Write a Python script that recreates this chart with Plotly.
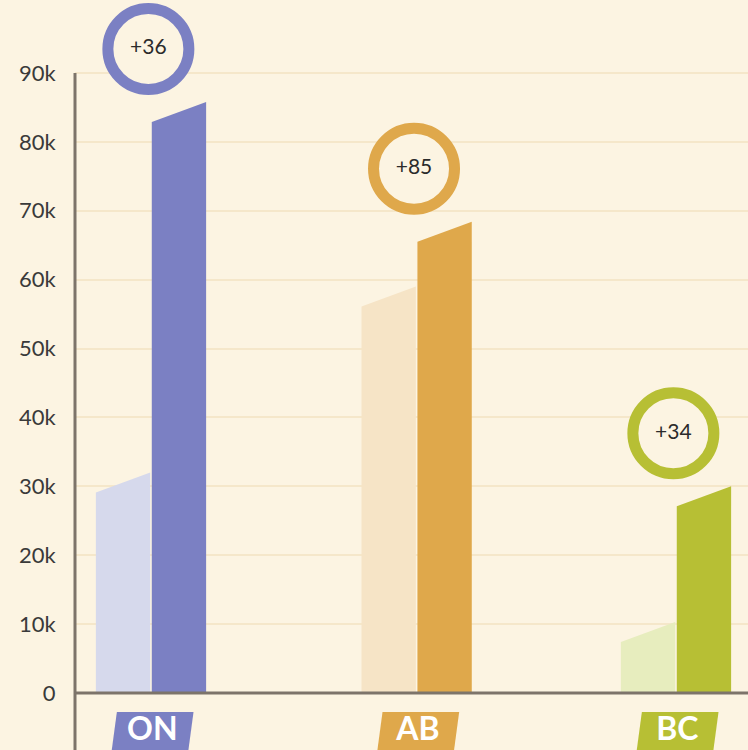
import plotly.graph_objects as go

# data
provinces = ["ON", "AB", "BC"]
previous = [32000, 59000, 10300]     # light bars, height at right edge
current = [85800, 68400, 30000]      # dark bars, height at right edge
change_labels = ["+36", "+85", "+34"]
tick_values = [0, 10000, 20000, 30000, 40000, 50000, 60000, 70000, 80000, 90000]
tick_labels = ["0", "10k", "20k", "30k", "40k", "50k", "60k", "70k", "80k", "90k"]

dark_colors = ["#7B80C3", "#DFA84B", "#B7BF34"]
light_colors = ["#D6D9EC", "#F6E4C6", "#E7EDBE"]
bg = "#FCF4E2"

slant = 2900       # drop of the top edge across each bar
bar_w = 0.21
ring_gap = 7700    # circle centre above the dark bar
x_pos = [0, 1.012, 2]   # AB sits a touch right of the even spacing

fig = go.Figure()

for i, name in enumerate(provinces):
    c = x_pos[i]
    # previous value, to the left of the category position
    x0, x1 = c - bar_w, c - 0.003
    fig.add_trace(go.Scatter(
        x=[x0, x0, x1, x1, x0],
        y=[0, previous[i] - slant, previous[i], 0, 0],
        fill="toself", fillcolor=light_colors[i],
        mode="lines", line=dict(width=0), hoverinfo="skip", showlegend=False
    ))
    # current value, to the right
    x0, x1 = c + 0.003, c + bar_w
    fig.add_trace(go.Scatter(
        x=[x0, x0, x1, x1, x0],
        y=[0, current[i] - slant, current[i], 0, 0],
        fill="toself", fillcolor=dark_colors[i],
        mode="lines", line=dict(width=0), hoverinfo="skip", showlegend=False
    ))

# rings with the change
fig.add_trace(go.Scatter(
    x=[c - 0.01 for c in x_pos],
    y=[v + ring_gap for v in current],
    mode="markers+text",
    text=change_labels,
    textposition="middle center",
    textfont=dict(family="Lato", size=21, color="#2B2B2B"),
    marker=dict(size=81, color=bg, line=dict(width=11, color=dark_colors)),
    hoverinfo="skip", showlegend=False
))

# slanted label boxes under the axis
box_top, box_bot = -2760, -9000
for i, name in enumerate(provinces):
    c = x_pos[i] + 0.005
    fig.add_trace(go.Scatter(
        x=[c - 0.157, c - 0.135, c + 0.157, c + 0.135, c - 0.157],
        y=[box_bot, box_top, box_top, box_bot, box_bot],
        fill="toself", fillcolor=dark_colors[i],
        mode="lines", line=dict(width=0), hoverinfo="skip", showlegend=False
    ))
fig.add_trace(go.Scatter(
    x=[c + 0.005 for c in x_pos],
    y=[-5600] * len(provinces),
    mode="text", text=provinces, textposition="middle center",
    textfont=dict(family="Lato", size=32, color="white", weight="bold"),
    hoverinfo="skip", showlegend=False
))

axis_col = "#7D746A"
fig.add_shape(type="line", xref="paper", yref="y", x0=0, x1=0, y0=-9000, y1=90000,
              line=dict(color=axis_col, width=3))
fig.add_shape(type="line", xref="paper", yref="y", x0=0, x1=1, y0=0, y1=0,
              line=dict(color=axis_col, width=3))

fig.update_layout(
    width=748, height=750,
    margin=dict(l=75, r=0, t=0, b=0),
    paper_bgcolor=bg, plot_bgcolor=bg,
    font=dict(family="Lato", color="#3A3A3A"),
    xaxis=dict(range=[-0.2895, 2.2743], showgrid=False, zeroline=False,
               showticklabels=False, fixedrange=True),
    yaxis=dict(range=[-8274, 100600], tickvals=tick_values, ticktext=tick_labels,
               showgrid=True, gridcolor="#F5E7CA", gridwidth=2, zeroline=False,
               ticks="outside", ticklen=14, tickcolor="rgba(0,0,0,0)",
               tickfont=dict(size=22, color="#3A3A3A"), showline=False),
)

# page has a default 8px body margin; drop it so the figure fills the window
fig.write_html("out.html", config={"displayModeBar": False},
               post_script="document.body.style.margin='0px';")
